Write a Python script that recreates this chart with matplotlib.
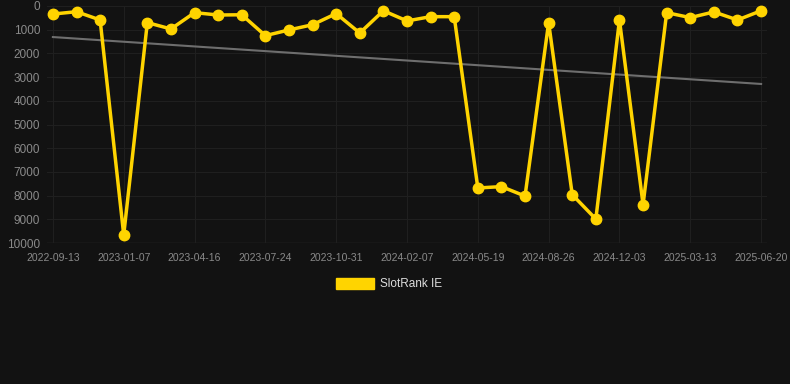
import numpy as np
import matplotlib
matplotlib.use("Agg")
import matplotlib.pyplot as plt
from matplotlib.patches import Patch

plt.rcParams['font.family'] = ['Liberation Sans', 'DejaVu Sans']

# rank per sample (lower is better, axis inverted)
ranks = [340, 240, 590, 9660, 700, 970, 280, 380, 370, 1250,
         1010, 790, 320, 1140, 200, 630, 450, 450, 7680, 7620,
         8020, 700, 7960, 8990, 590, 8380, 280, 490, 250, 590, 200]
tick_labels = ['2022-09-13', '2023-01-07', '2023-04-16', '2023-07-24',
               '2023-10-31', '2024-02-07', '2024-05-19', '2024-08-26',
               '2024-12-03', '2025-03-13', '2025-06-20']
trend_ends = [1310, 3290]

bg = '#121212'
gold = '#FFD400'

x = np.arange(len(ranks))

fig = plt.figure(figsize=(7.9, 3.84), dpi=100, facecolor=bg)
ax = fig.add_axes([47/790, 1 - 243/384, 720/790, 237/384], facecolor=bg)

ax.plot([x[0], x[-1]], trend_ends, color='#6e6e6e', lw=1.5, zorder=2)
ax.plot(x, ranks, color=gold, lw=2.5, marker='o', ms=7.5,
        solid_joinstyle='miter', clip_on=False, zorder=3)

ax.set_xlim(-0.25, len(ranks) - 0.75)
ax.set_ylim(10000, 0)
ax.set_yticks(np.arange(0, 10001, 1000))
ax.set_xticks(x[::3])
ax.set_xticklabels(tick_labels)

ax.grid(True, color='#1f1f1f', lw=0.8)
for s in ax.spines.values():
    s.set_visible(False)
ax.axhline(10000, color='#2c2c2c', lw=1, zorder=1)
ax.tick_params(axis='y', colors='#8a8a8a', labelsize=8.5, length=0, pad=5)
ax.tick_params(axis='x', colors='#8a8a8a', labelsize=7.5, length=0, pad=7)

fig.legend(handles=[Patch(facecolor=gold, edgecolor=gold, label='SlotRank IE')],
           loc='center', bbox_to_anchor=(389/790, 1 - 284/384), frameon=False,
           labelcolor='#dddddd', fontsize=8.5, handlelength=3.3, handleheight=1.1,
           handletextpad=0.5)

fig.savefig('out.png', dpi=100, facecolor=bg)
